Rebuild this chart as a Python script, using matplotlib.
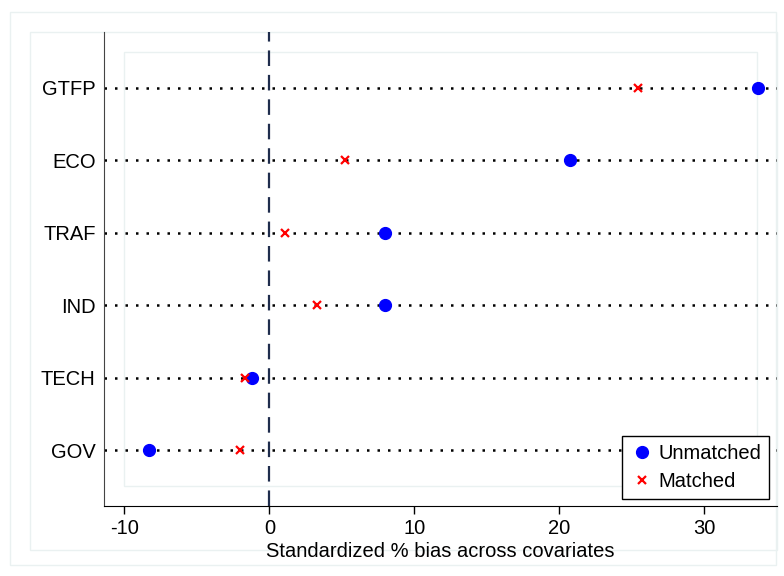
import matplotlib.pyplot as plt
from matplotlib.patches import Rectangle

plt.rcParams['font.family'] = ['Liberation Sans', 'DejaVu Sans']
plt.rcParams['axes.unicode_minus'] = False

# covariates listed bottom to top
covariates = ["GOV", "TECH", "IND", "TRAF", "ECO", "GTFP"]
unmatched = [-8.3, -1.2, 8.0, 8.0, 20.7, 33.7]
matched = [-2.0, -1.7, 3.3, 1.1, 5.2, 25.4]
xticks = [-10, 0, 10, 20, 30]

W, H = 784, 576
fig = plt.figure(figsize=(W / 100, H / 100), dpi=100)
fig.patch.set_facecolor("white")

# faint Stata-style region outlines
frame_col = "#eaf1f1"
for (x0, y0, x1, y1) in [(10, 12, 776, 565), (30, 32, 777, 550), (124, 52, 757, 486)]:
    fig.patches.append(Rectangle((x0 / W, 1 - y1 / H), (x1 - x0) / W, (y1 - y0) / H,
                                 transform=fig.transFigure, fill=False,
                                 edgecolor=frame_col, linewidth=1.0, zorder=-5))

ax = fig.add_axes([104 / W, 1 - 506 / H, (777 - 104) / W, (506 - 32) / H])
ax.set_facecolor("none")
ax.set_zorder(2)

ypos = list(range(1, len(covariates) + 1))
for y in ypos:
    ax.axhline(y, color="black", linestyle=(0, (1, 3.2)), linewidth=1.8, zorder=1)

ax.axvline(0, color="#1f2d4d", linestyle=(0, (7, 4)), linewidth=1.6, zorder=2)

ax.plot(unmatched, ypos, "o", color="#0000ff", markersize=8.5, linestyle="none",
        label="Unmatched", zorder=3)
ax.plot(matched, ypos, "x", color="#ff0000", markersize=6, markeredgewidth=1.6,
        linestyle="none", label="Matched", zorder=4)

ax.set_xlim(-11.4, 35.0)
ax.set_ylim(0.227, 6.773)
ax.set_xticks(xticks)
ax.set_yticks(ypos)
ax.set_yticklabels(covariates)
ax.tick_params(axis="y", length=0, pad=6, labelsize=14.5)
ax.tick_params(axis="x", length=6, width=1, pad=3, labelsize=14.5, direction="out")

for side in ["top", "right"]:
    ax.spines[side].set_visible(False)
ax.spines["left"].set_color("#444444")
ax.spines["bottom"].set_color("black")

ax.set_xlabel("Standardized % bias across covariates", fontsize=14.5, labelpad=3)

leg = ax.legend(loc="lower right", bbox_to_anchor=(769 / W, 1 - 499 / H),
                bbox_transform=fig.transFigure, fontsize=14.5, frameon=True,
                fancybox=False, edgecolor="black", framealpha=1,
                handletextpad=0.2, handlelength=1.2, borderpad=0.4,
                labelspacing=0.45, borderaxespad=0)
leg.get_frame().set_linewidth(1.0)

fig.savefig("out.png", dpi=100, facecolor="white")
